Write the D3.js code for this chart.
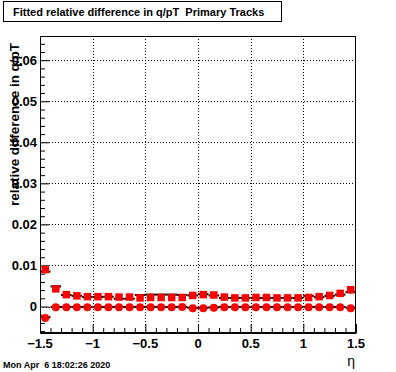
<!DOCTYPE html>
<html>
<head>
<meta charset="utf-8">
<script src="https://cdn.jsdelivr.net/npm/d3@7"></script>
<style>
  html, body { margin: 0; padding: 0; background: #fff; }
  svg { display: block; }
  text { font-family: "Liberation Sans", Arial, Helvetica, sans-serif; white-space: pre; }
</style>
</head>
<body>
<script>
// ---- data ----
const etaBins = [-1.45, -1.35, -1.25, -1.15, -1.05, -0.95, -0.85, -0.75, -0.65, -0.55,
                 -0.45, -0.35, -0.25, -0.15, -0.05, 0.05, 0.15, 0.25, 0.35, 0.45,
                 0.55, 0.65, 0.75, 0.85, 0.95, 1.05, 1.15, 1.25, 1.35, 1.45];
const binHalfWidth = 0.05;
// fitted width-like series (squares)
const redSquares = [0.0090, 0.0043, 0.0029, 0.0026, 0.0024, 0.0024, 0.0024, 0.0023, 0.0023, 0.0021,
                    0.0022, 0.0022, 0.0022, 0.0022, 0.0027, 0.0029, 0.0028, 0.0023, 0.0021, 0.0021,
                    0.0022, 0.0022, 0.0021, 0.0021, 0.0021, 0.0022, 0.0024, 0.0027, 0.0032, 0.0041];
const blackSquares = [0.0085, 0.0049, 0.0028, 0.0026, 0.0023, 0.0023, 0.0024, 0.0019, 0.0019, 0.0028,
                      0.0029, 0.0029, 0.0029, 0.0028, 0.0027, 0.0030, 0.0027, 0.0021, 0.0021, 0.0021,
                      0.0021, 0.0021, 0.0021, 0.0021, 0.0021, 0.0026, 0.0023, 0.0026, 0.0029, 0.0035];
const blackSquaresErr = [0.0004, 0.0003, 0.0002, 0.0002, 0.0002, 0.0002, 0.0002, 0.0002, 0.0002, 0.0002,
                         0.0002, 0.0002, 0.0002, 0.0002, 0.0002, 0.0002, 0.0002, 0.0002, 0.0002, 0.0002,
                         0.0002, 0.0002, 0.0002, 0.0002, 0.0002, 0.0002, 0.0002, 0.0002, 0.0003, 0.0004];
// fitted mean series (circles)
const redCircles = [-0.0028, -0.00015, -0.00015, -0.00015, -0.00015, -0.00015, -0.00015, -0.00015, -0.00015, -0.00015,
                    -0.00015, -0.00015, -0.00015, -0.0001, -0.0004, -0.0004, -0.0003, -0.00015, -0.00015, -0.00015,
                    -0.00015, -0.00015, -0.00015, -0.00015, -0.00015, -0.00015, -0.00015, -0.00015, -0.00015, -0.0004];
const blackCircles = [-0.0026, -0.0001, -0.0001, -0.0001, -0.0001, -0.0001, -0.0001, -0.0001, -0.0001, -0.0001,
                      -0.0001, -0.0001, -0.0001, -0.0001, -0.0003, -0.0003, -0.0002, -0.0001, -0.0001, -0.0001,
                      -0.0001, -0.0001, -0.0001, -0.0001, -0.0001, -0.0001, -0.0001, -0.0001, -0.0001, -0.0003];
const blackCirclesErr = [0.0003, 0.0002, 0.0001, 0.0001, 0.0001, 0.0001, 0.0001, 0.0001, 0.0001, 0.0001,
                         0.0001, 0.0001, 0.0001, 0.0001, 0.0001, 0.0001, 0.0001, 0.0001, 0.0001, 0.0001,
                         0.0001, 0.0001, 0.0001, 0.0001, 0.0001, 0.0001, 0.0001, 0.0001, 0.0001, 0.0002];

const xTicks = [-1.5, -1, -0.5, 0, 0.5, 1, 1.5];
const xTickLabels = ["\u22121.5", "\u22121", "\u22120.5", "0", "0.5", "1", "1.5"];
const yTicks = [0, 0.01, 0.02, 0.03, 0.04, 0.05, 0.06];
const yTickLabels = ["0", "0.01", "0.02", "0.03", "0.04", "0.05", "0.06"];
const xDomain = [-1.5, 1.5];
const yDomain = [-0.00645, 0.0659];

const titleText = "Fitted relative difference in q/pT  Primary Tracks";
const yAxisTitle = "relative difference in q/pT";
const xAxisTitle = "\u03B7";
const dateText = "Mon Apr  6 18:02:26 2020";

// ---- layout ----
const W = 396, H = 372;
const L = 40, R = 356, T = 36, B = 333;

const svg = d3.select("body").append("svg").attr("width", W).attr("height", H);
svg.append("rect").attr("width", W).attr("height", H).attr("fill", "#fff");

const x = d3.scaleLinear().domain(xDomain).range([L, R]);
const y = d3.scaleLinear().domain(yDomain).range([B, T]);

// grid
const grid = svg.append("g").attr("stroke", "#000").attr("stroke-width", 1)
  .attr("stroke-dasharray", "1,2").attr("shape-rendering", "crispEdges");
xTicks.filter(v => v > xDomain[0] && v < xDomain[1]).forEach(v => {
  grid.append("line").attr("x1", Math.round(x(v)) + 0.5).attr("x2", Math.round(x(v)) + 0.5)
    .attr("y1", T).attr("y2", B);
});
yTicks.forEach(v => {
  grid.append("line").attr("y1", Math.round(y(v)) + 0.5).attr("y2", Math.round(y(v)) + 0.5)
    .attr("x1", L).attr("x2", R);
});

// axes with inward ticks (ROOT style)
const xMinor = d3.range(-15, 16).map(i => i / 10);
const yMinor = d3.range(-3, 33).map(i => i / 500).filter(v => v >= yDomain[0] && v <= yDomain[1]);

const xAxis = d3.axisBottom(x).tickValues(xMinor).tickSizeInner(-5).tickSizeOuter(0).tickFormat("");
const gx = svg.append("g").attr("transform", `translate(0,${B})`).call(xAxis);
gx.selectAll(".tick line").filter(d => xTicks.some(t => Math.abs(t - d) < 1e-9)).attr("y2", -9);
gx.select(".domain").attr("stroke", "#000");

const yAxis = d3.axisLeft(y).tickValues(yMinor).tickSizeInner(-5).tickSizeOuter(0).tickFormat("");
const gy = svg.append("g").attr("transform", `translate(${L},0)`).call(yAxis);
gy.selectAll(".tick line").filter(d => yTicks.some(t => Math.abs(t - d) < 1e-9)).attr("x2", 9);
gy.select(".domain").attr("stroke", "#000");

// frame
svg.append("rect").attr("x", L + 0.5).attr("y", T + 0.5).attr("width", R - L - 1).attr("height", B - T - 1)
  .attr("fill", "none").attr("stroke", "#000").attr("stroke-width", 1);

// tick labels
svg.append("g").selectAll("text").data(xTicks).join("text")
  .attr("x", d => x(d)).attr("y", B + 15)
  .attr("text-anchor", "middle").attr("font-size", 13).attr("font-weight", "bold")
  .text((d, i) => xTickLabels[i]);
svg.append("g").selectAll("text").data(yTicks).join("text")
  .attr("x", L - 3).attr("y", d => y(d) + 4.5)
  .attr("text-anchor", "end").attr("font-size", 13).attr("font-weight", "bold")
  .text((d, i) => yTickLabels[i]);

// data: black series with horizontal bin-width bars and vertical errors
function blackSeries(vals, errs) {
  const g = svg.append("g").attr("stroke", "#000").attr("stroke-width", 2);
  g.selectAll("line.h").data(vals).join("line").attr("class", "h")
    .attr("x1", (d, i) => x(etaBins[i] - binHalfWidth)).attr("x2", (d, i) => x(etaBins[i] + binHalfWidth))
    .attr("y1", d => y(d)).attr("y2", d => y(d));
  g.selectAll("line.v").data(vals).join("line").attr("class", "v")
    .attr("stroke-width", 1)
    .attr("x1", (d, i) => x(etaBins[i])).attr("x2", (d, i) => x(etaBins[i]))
    .attr("y1", (d, i) => y(d - errs[i])).attr("y2", (d, i) => y(d + errs[i]));
}
blackSeries(blackSquares, blackSquaresErr);
blackSeries(blackCircles, blackCirclesErr);

// red markers
const sq = 7.5;
svg.append("g").selectAll("rect").data(redSquares).join("rect")
  .attr("x", (d, i) => x(etaBins[i]) - sq / 2).attr("y", d => y(d) - sq / 2)
  .attr("width", sq).attr("height", sq).attr("fill", "#ff0000");
svg.append("g").selectAll("circle").data(redCircles).join("circle")
  .attr("cx", (d, i) => x(etaBins[i])).attr("cy", d => y(d)).attr("r", 4)
  .attr("fill", "#ff0000");

// axis titles
svg.append("text").attr("transform", `translate(19,${T + 7}) rotate(-90)`)
  .attr("text-anchor", "end").attr("font-size", 13).attr("font-weight", "bold")
  .attr("textLength", 163).attr("lengthAdjust", "spacingAndGlyphs")
  .text(yAxisTitle);
svg.append("text").attr("x", R - 1).attr("y", 366).attr("text-anchor", "end")
  .attr("font-size", 14).text(xAxisTitle);

// title box
svg.append("rect").attr("x", 3.5).attr("y", 1.5).attr("width", 278).attr("height", 20)
  .attr("fill", "#fff").attr("stroke", "#000").attr("stroke-width", 1);
svg.append("text").attr("x", 13).attr("y", 15.5).attr("font-size", 11).attr("font-weight", "bold")
  .text(titleText);

// date stamp
svg.append("text").attr("x", 3).attr("y", 368).attr("font-size", 9).attr("font-weight", "bold")
  .text(dateText);
</script>
</body>
</html>
